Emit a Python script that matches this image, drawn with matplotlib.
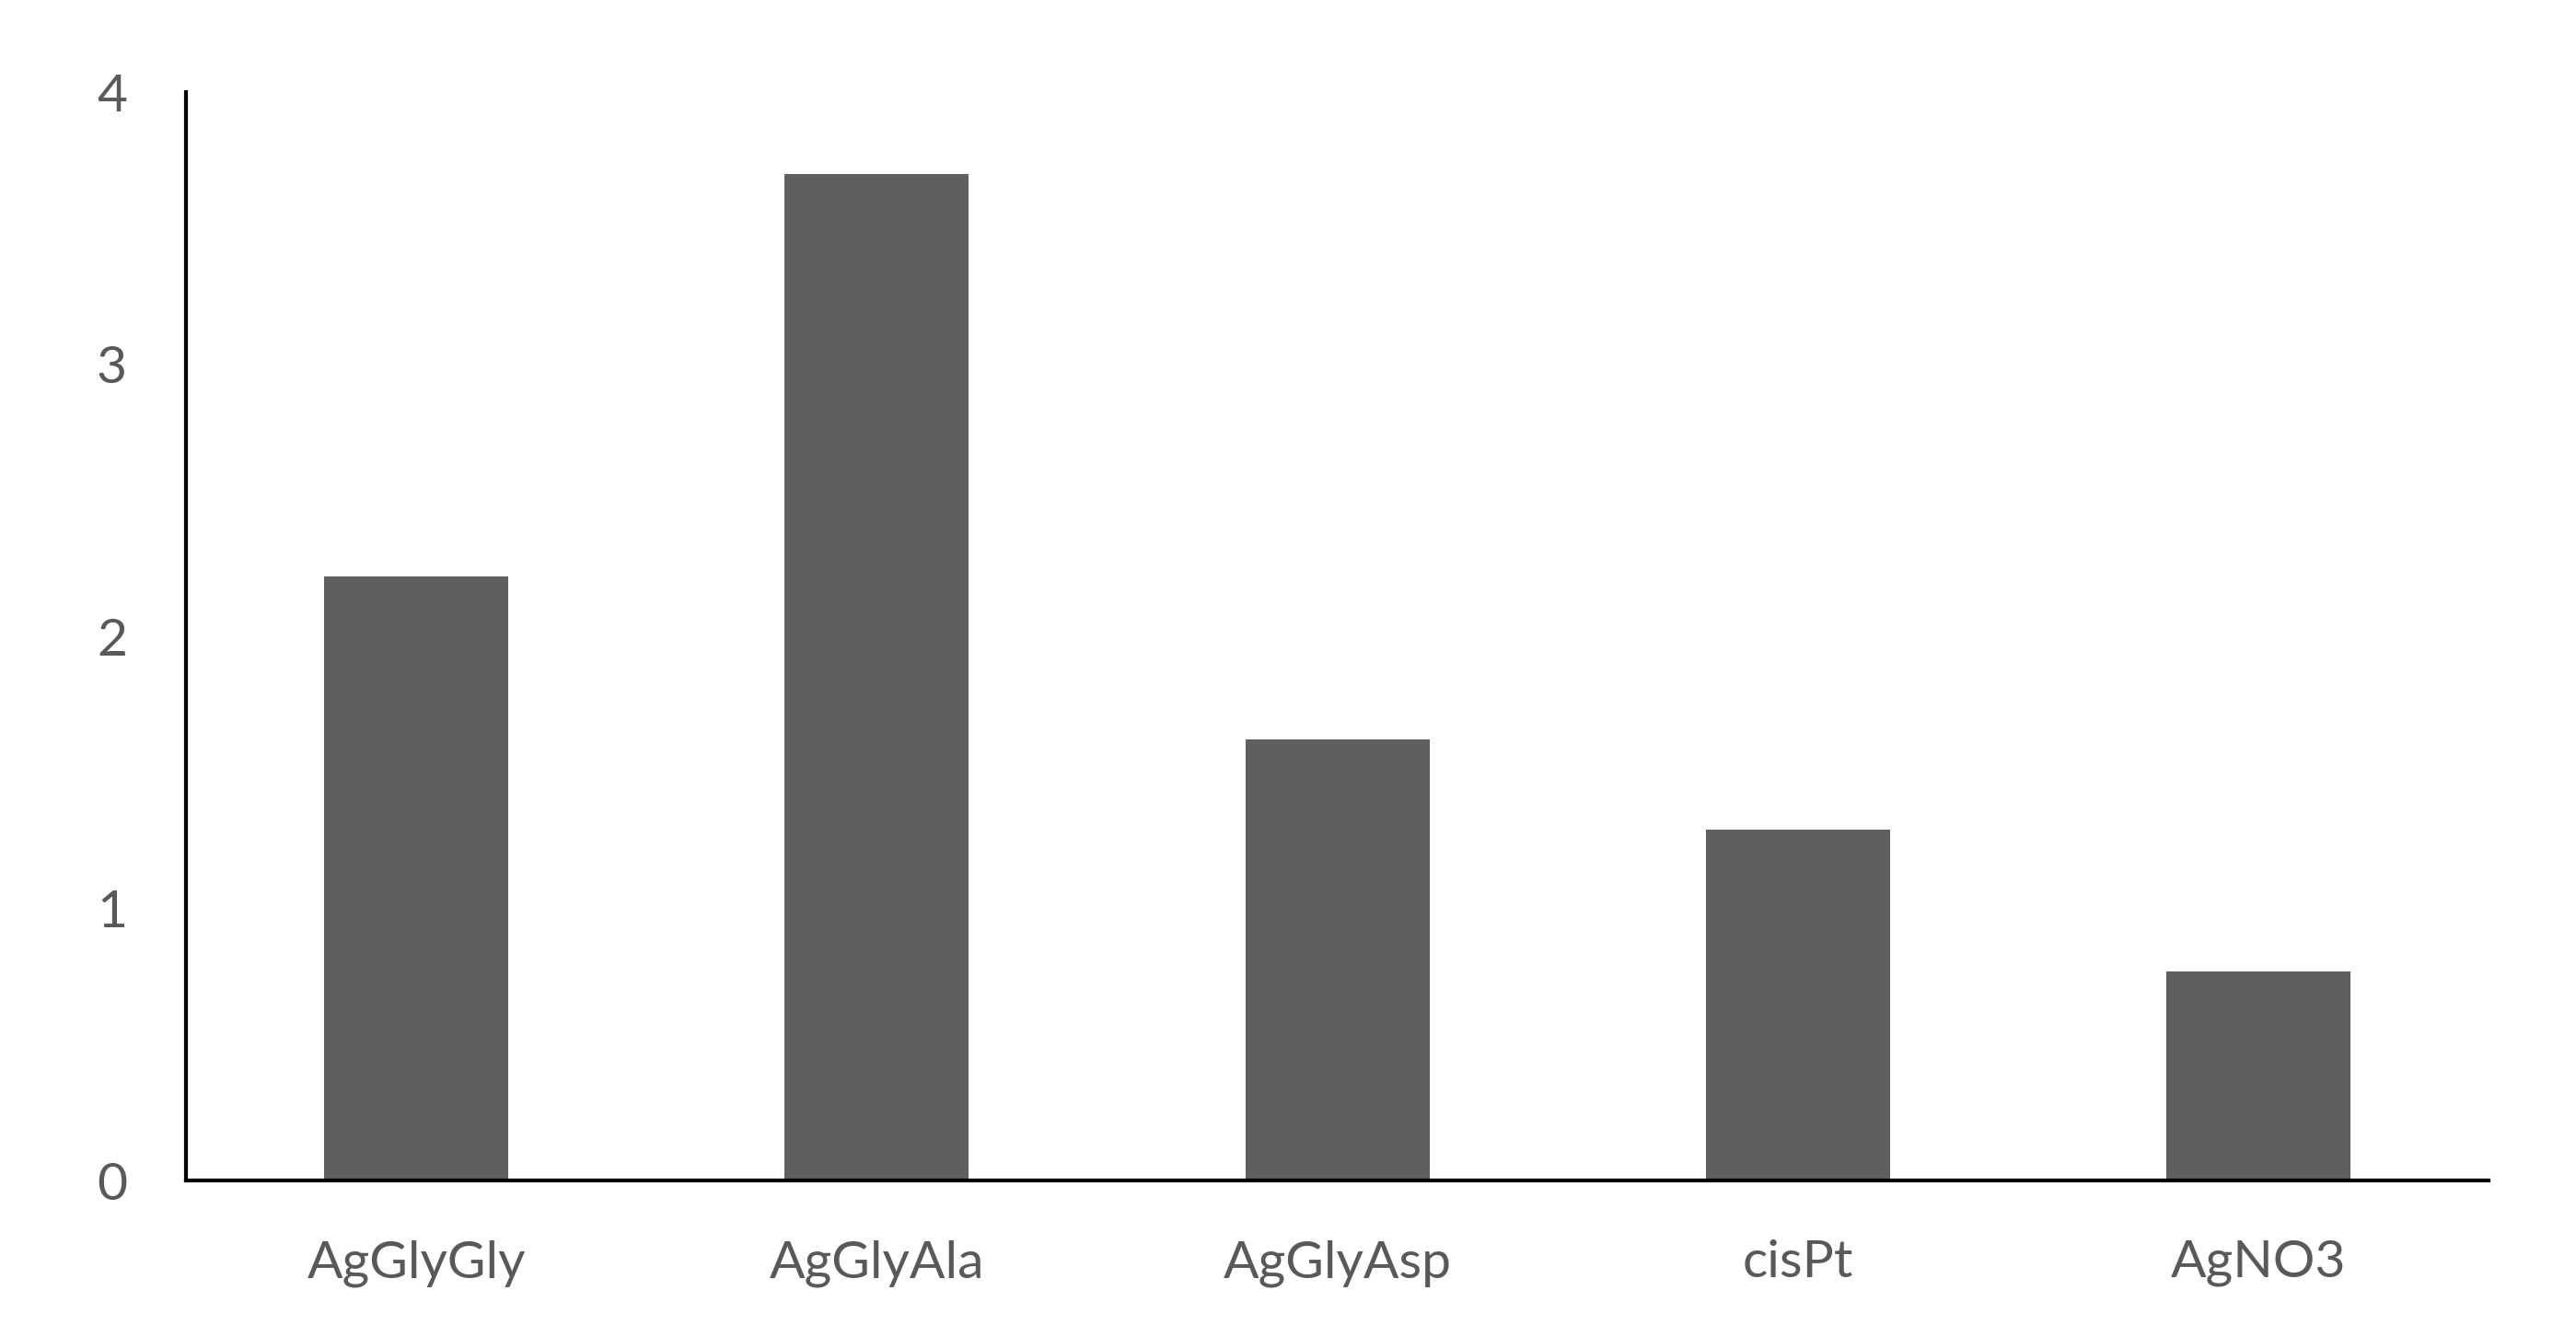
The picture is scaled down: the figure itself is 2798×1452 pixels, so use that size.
import matplotlib
matplotlib.use('Agg')
from matplotlib import pyplot as plt

categories = ['AgGlyGly', 'AgGlyAla', 'AgGlyAsp', 'cisPt', 'AgNO3']
values = [2.22, 3.70, 1.62, 1.29, 0.77]
yticks = [0, 1, 2, 3, 4]

plt.rcParams['font.family'] = ['Lato', 'DejaVu Sans']

fig = plt.figure(figsize=(27.98, 14.52), dpi=100)
ax = fig.add_axes([0.0722, 0.117, 0.894, 0.814])

x = range(len(categories))
ax.bar(x, values, width=0.4, color='#5f5f5f')

ax.set_xlim(-0.5, len(categories) - 0.5)
ax.set_ylim(0, 4)
ax.set_xticks(list(x))
ax.set_xticklabels(categories)
ax.set_yticks(yticks)

for side in ['top', 'right']:
    ax.spines[side].set_visible(False)
for side in ['left', 'bottom']:
    ax.spines[side].set_linewidth(3)
    ax.spines[side].set_color('black')

ax.tick_params(axis='both', length=0, labelsize=41, labelcolor='#595959')
ax.tick_params(axis='x', pad=46)
ax.tick_params(axis='y', pad=46)

fig.savefig('out.png', dpi=100, facecolor='white')
